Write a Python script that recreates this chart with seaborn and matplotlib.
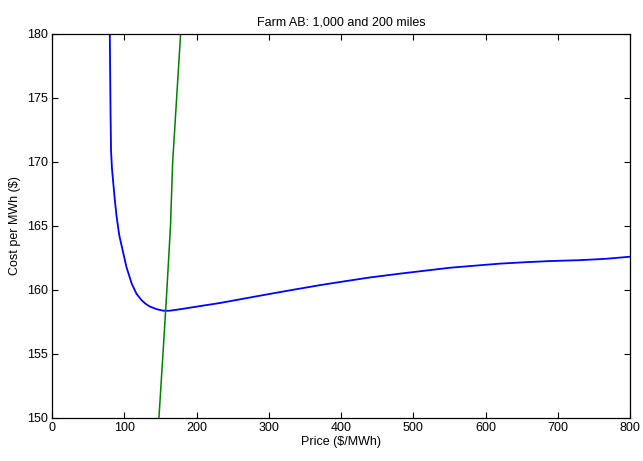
import matplotlib
matplotlib.use("Agg")
import matplotlib.pyplot as plt
import seaborn as sns
import pandas as pd

# Blue curve: cost per MWh vs price
blue_x = [80, 80.5, 81, 81.7, 83, 84.9, 87, 89.5, 93, 97.8, 103, 110.3, 117, 124, 130,
          135.6, 145, 154, 163, 180, 200, 232, 265, 302, 335, 371, 405, 440, 482, 515,
          551, 585, 620, 655, 689, 730, 765, 800]
blue_y = [180, 177, 174, 170.9, 169.5, 168.3, 167, 165.7, 164.3, 163.1, 161.8, 160.5,
          159.7, 159.2, 158.9, 158.7, 158.5, 158.38, 158.38, 158.52, 158.7, 158.98,
          159.32, 159.7, 160.03, 160.38, 160.68, 160.98, 161.28, 161.5, 161.74, 161.9,
          162.06, 162.17, 162.26, 162.33, 162.43, 162.6]
# Green curve
green_x = [148, 155, 159, 164, 167, 178]
green_y = [150, 156.3, 160, 165, 170, 180]

title = "Farm AB: 1,000 and 200 miles"
xlabel = "Price ($/MWh)"
ylabel = "Cost per MWh ($)"

sns.set_style("ticks")
plt.rcParams['font.family'] = ['Liberation Sans', 'DejaVu Sans']
plt.rcParams['text.color'] = 'black'
plt.rcParams['axes.labelcolor'] = 'black'
plt.rcParams['xtick.color'] = 'black'
plt.rcParams['ytick.color'] = 'black'

fig = plt.figure(figsize=(6.43, 4.61), dpi=100)
ax = fig.add_axes([52/643, 1 - 418/461, 578/643, 384/461])

df_b = pd.DataFrame({"x": blue_x, "y": blue_y})
df_g = pd.DataFrame({"x": green_x, "y": green_y})
sns.lineplot(data=df_b, x="x", y="y", ax=ax, color="#0000ff", lw=1.3, sort=False)
sns.lineplot(data=df_g, x="x", y="y", ax=ax, color="#008000", lw=1.1, sort=False)

ax.set_xlim(0, 800)
ax.set_ylim(150, 180)
ax.set_xticks(range(0, 801, 100))
ax.set_yticks(range(150, 181, 5))
ax.tick_params(direction="in", top=True, right=True, labelsize=9, length=4, width=0.8,
               pad=3, colors="black")
for s in ax.spines.values():
    s.set_visible(True)
    s.set_linewidth(0.9)
    s.set_color("black")
ax.set_xlabel(xlabel, fontsize=9, labelpad=1, color="black")
ax.set_ylabel(ylabel, fontsize=9, labelpad=4, color="black")
ax.set_title(title, fontsize=9, pad=6, color="black")

fig.savefig("out.png", dpi=100)
